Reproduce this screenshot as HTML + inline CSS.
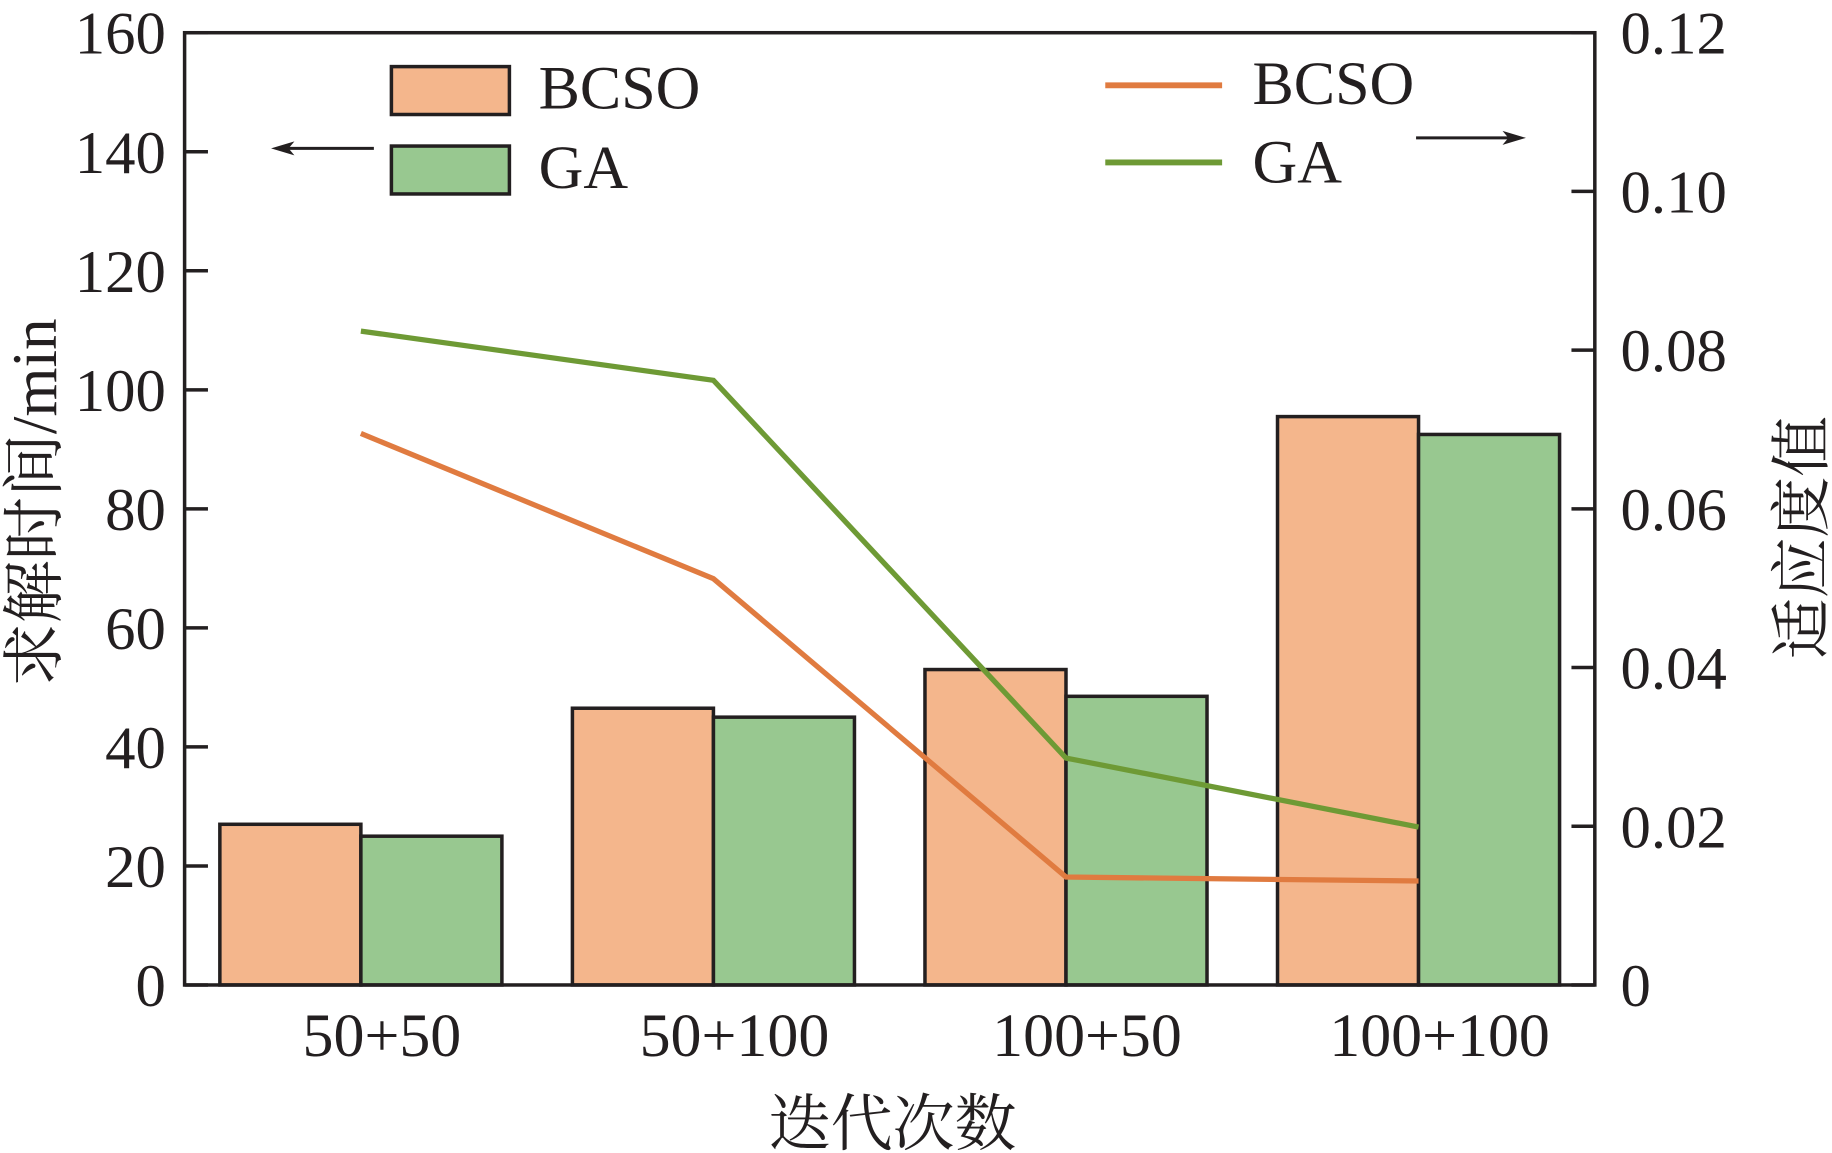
<!DOCTYPE html>
<html><head><meta charset="utf-8"><style>
html,body{margin:0;padding:0;background:#fff;}
svg{display:block;}
text{font-family:"Liberation Serif","Noto Serif CJK SC",serif;fill:#231f20;}
</style></head><body>
<svg id="chart" width="1832" height="1153" viewBox="0 0 1568 986.8" preserveAspectRatio="none" xmlns="http://www.w3.org/2000/svg">
<g id="bars"></g>
<g id="lines"></g>
<rect x="158" y="28" width="1207" height="815" fill="none" stroke="#231f20" stroke-width="3"/>
<g id="axes"></g>
<g>
<rect x="335" y="57" width="101" height="41" fill="#F4B68C" stroke="#231f20" stroke-width="3"/>
<text x="461" y="93" font-size="53">BCSO</text>
<rect x="335" y="125" width="101" height="41" fill="#98C890" stroke="#231f20" stroke-width="3"/>
<text x="461" y="161" font-size="53">GA</text>
<line x1="320" y1="127" x2="240" y2="127" stroke="#231f20" stroke-width="2.5"/>
<polygon points="232,127 252,121 247,127 252,133" fill="#231f20"/>
</g>
<g>
<line x1="946" y1="73" x2="1046" y2="73" stroke="#E07B40" stroke-width="5"/>
<text x="1072" y="89" font-size="53">BCSO</text>
<line x1="946" y1="139" x2="1046" y2="139" stroke="#6E9A35" stroke-width="5"/>
<text x="1072" y="156" font-size="53">GA</text>
<line x1="1212" y1="118" x2="1298" y2="118" stroke="#231f20" stroke-width="2.5"/>
<polygon points="1306,118 1286,112 1291,118 1286,124" fill="#231f20"/>
</g>
<text x="764" y="980" font-size="53" text-anchor="middle">迭代次数</text>
<text transform="translate(48,430) rotate(-90)" font-size="54" text-anchor="middle">求解时间/min</text>
<text transform="translate(1560,460) rotate(-90)" font-size="52" text-anchor="middle">适应度值</text>
</svg>
<script>
const categories = ["50+50","50+100","100+50","100+100"];
const bcsoTime = [27, 46.5, 53, 95.5];
const gaTime = [25, 45, 48.5, 92.5];
const bcsoFit = [0.0695, 0.0512, 0.0136, 0.0131];
const gaFit = [0.0824, 0.0762, 0.0286, 0.0199];
const leftTicks = [0,20,40,60,80,100,120,140,160];
const rightTicks = ["0","0.02","0.04","0.06","0.08","0.10","0.12"];

const NS="http://www.w3.org/2000/svg";
const X0=158,X1=1365,Y0=843,Y1=28;
const band=(X1-X0)/categories.length;
const xc=i=>X0+band*(i+0.5);
const yL=v=>Y0-(v/160)*(Y0-Y1);
const yR=v=>Y0-(v/0.12)*(Y0-Y1);
function mk(tag,attrs,parent){const e=document.createElementNS(NS,tag);for(const k in attrs)e.setAttribute(k,attrs[k]);parent.appendChild(e);return e;}
const gb=document.getElementById('bars'),gl=document.getElementById('lines'),ga=document.getElementById('axes');
const bw=band*0.4;
categories.forEach((c,i)=>{
  let r=mk('rect',{x:xc(i)-bw,y:yL(bcsoTime[i]),width:bw,height:Y0-yL(bcsoTime[i]),fill:'#F4B68C',stroke:'#231f20','stroke-width':3},gb);
  
  
  r=mk('rect',{x:xc(i),y:yL(gaTime[i]),width:bw,height:Y0-yL(gaTime[i]),fill:'#98C890',stroke:'#231f20','stroke-width':3},gb);
  
  
  const t=mk('text',{x:xc(i)+18,y:904,'font-size':53,'text-anchor':'middle'},ga);
  t.textContent=c;
  
  
});
let p=mk('polyline',{points:bcsoFit.map((v,i)=>xc(i)+','+yR(v)).join(' '),fill:'none',stroke:'#E07B40','stroke-width':4.5},gl);


p=mk('polyline',{points:gaFit.map((v,i)=>xc(i)+','+yR(v)).join(' '),fill:'none',stroke:'#6E9A35','stroke-width':4.5},gl);


leftTicks.forEach(v=>{
  const y=yL(v);
  const l=mk('line',{x1:X0,x2:X0+20,y1:y,y2:y,stroke:'#231f20','stroke-width':3},ga);
  
  
  const t=mk('text',{x:142,y:y+18,'font-size':52,'text-anchor':'end'},ga);
  t.textContent=v;
  
  
});
rightTicks.forEach((s,i)=>{
  const y=yR(parseFloat(s));
  const l=mk('line',{x1:X1-20,x2:X1,y1:y,y2:y,stroke:'#231f20','stroke-width':3},ga);
  
  
  const t=mk('text',{x:1387,y:y+18,'font-size':52},ga);
  t.textContent=s;
  
  
});
</script>
</body></html>
